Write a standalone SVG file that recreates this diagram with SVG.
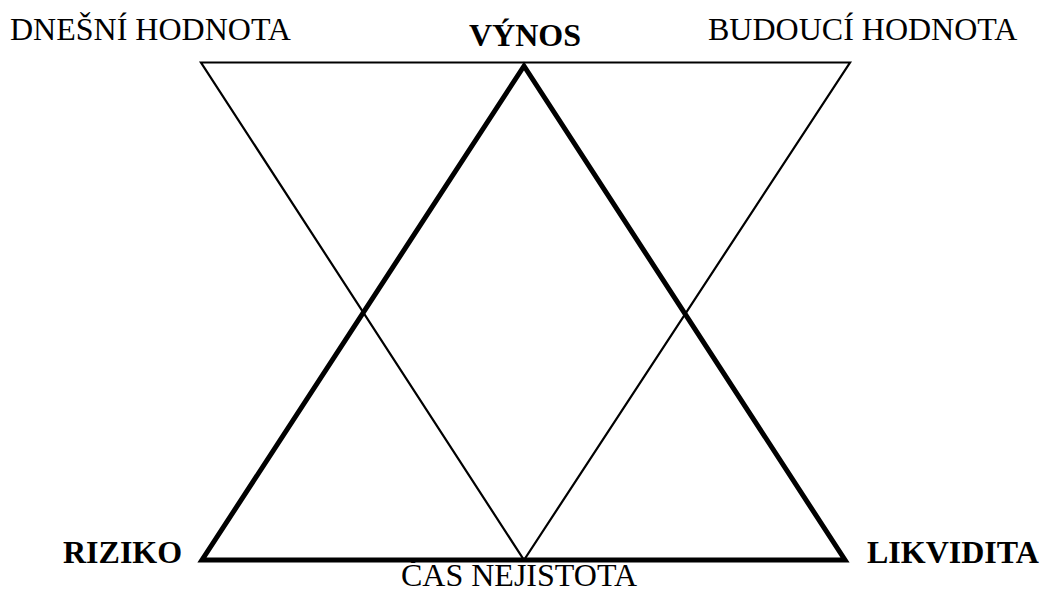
<svg xmlns="http://www.w3.org/2000/svg" width="1042" height="592" viewBox="0 0 1042 592">
<style>
.t{font-family:"Liberation Serif","Times New Roman",serif;font-size:32px;fill:#000}
.b{font-weight:bold}
.thin{fill:none;stroke:#000;stroke-width:2.2;stroke-linejoin:miter}
.thick{fill:none;stroke:#000;stroke-width:5;stroke-linejoin:miter}
</style>
<rect width="1042" height="592" fill="#fff"/>
<g id="connectors">
<polygon class="thin" points="201,62.5 850,62.5 524,560"/>
<polygon class="thick" points="524,66 202,560 845,560"/>
</g>
<g id="dnesni"><text class="t" x="10" y="40">DNEŠNÍ HODNOTA</text></g>
<g id="vynos"><text class="t b" x="525" y="45.5" text-anchor="middle">VÝNOS</text></g>
<g id="budouci"><text class="t" x="708" y="40">BUDOUCÍ HODNOTA</text></g>
<g id="riziko"><text class="t b" x="63" y="562.5">RIZIKO</text></g>
<g id="cas"><text class="t" x="519" y="585.5" text-anchor="middle">ČAS NEJISTOTA</text></g>
<g id="likvidita"><text class="t b" x="867" y="562.5">LIKVIDITA</text></g>
</svg>
